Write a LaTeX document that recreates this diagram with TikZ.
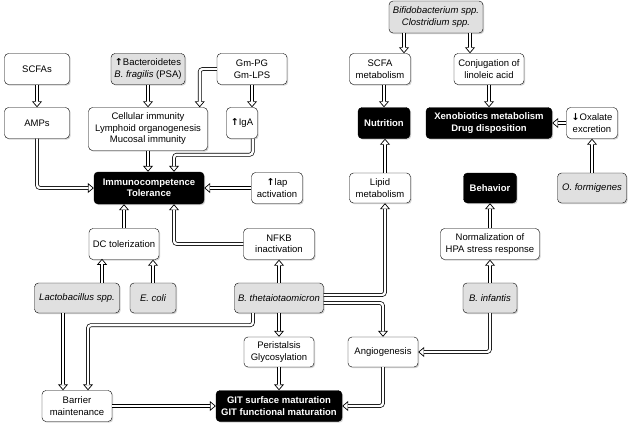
\documentclass[tikz,border=0pt]{standalone}
\usepackage{fontspec}
\setmainfont{Liberation Sans}
\newfontfamily\arrowfont{DejaVu Sans}
\usetikzlibrary{arrows.meta,shadows}
\newcommand{\upar}{{\arrowfont\bfseries ↑}}
\newcommand{\dnar}{{\arrowfont\bfseries ↓}}
\tikzset{
  >= latex,
  bx/.style={rectangle, rounded corners=4pt, draw, thin, fill=white, align=center, inner sep=1pt,
    font=\fontsize{9.5}{11.5}\selectfont,
    drop shadow={shadow xshift=1.2pt, shadow yshift=-1.2pt, fill=black!35}},
  gb/.style={bx, fill=black!12, font=\fontsize{9.5}{11.5}\selectfont\itshape},
  kb/.style={bx, fill=black, text=white, font=\fontsize{9.5}{11.5}\selectfont\bfseries},
  ha/.style={line width=3.8pt, rounded corners=3pt,
    -{Triangle[fill=white, length=6pt, width=10pt, line width=0.7pt]},
    postaction={draw=white, line width=2.4pt, -, shorten >=5.5pt}}
}
\begin{document}
\begin{tikzpicture}[x=1pt, y=-1pt]
  \useasboundingbox (0,0) rectangle (628,425);
  \node[bx, minimum width=65pt, minimum height=31pt] (scfa) at (37,69) {SCFAs};
  \node[bx, minimum width=65pt, minimum height=31pt] (amp) at (37,123) {AMPs};
  \node[bx, fill=black!12, minimum width=74pt, minimum height=31pt] (bac) at (148,69)
    {\upar Bacteroidetes\\ \textit{B. fragilis} (PSA)};
  \node[bx, minimum width=70pt, minimum height=31pt] (gm) at (252,69) {Gm-PG\\ Gm-LPS};
  \node[bx, minimum width=119pt, minimum height=43pt] (cel) at (148,129)
    {Cellular immunity\\ Lymphoid organogenesis\\ Mucosal immunity};
  \node[bx, minimum width=31pt, minimum height=31pt] (iga) at (242,123) {\upar IgA};
  \node[kb, minimum width=110pt, minimum height=32pt] (imm) at (149,188)
    {Immunocompetence\\ Tolerance};
  \node[bx, minimum width=51pt, minimum height=31pt] (lap) at (277,188) {\upar lap\\ activation};
  \node[bx, minimum width=70pt, minimum height=31pt] (dc) at (124,244) {DC tolerization};
  \node[bx, minimum width=71pt, minimum height=31pt] (nfkb) at (279,244) {NFKB\\ inactivation};
  \node[gb, minimum width=85pt, minimum height=30pt] (lac) at (77,298) {Lactobacillus spp.};
  \node[gb, minimum width=46pt, minimum height=30pt] (eco) at (153,298) {E. coli};
  \node[gb, minimum width=89pt, minimum height=30pt] (bth) at (279,298) {B. thetaiotaomicron};
  \node[bx, minimum width=70pt, minimum height=30pt] (per) at (279,352) {Peristalsis\\ Glycosylation};
  \node[bx, minimum width=70pt, minimum height=31pt] (bar) at (77,406) {Barrier\\ maintenance};
  \node[kb, minimum width=126pt, minimum height=31pt] (git) at (279,406)
    {GIT surface maturation\\ GIT functional maturation};
  \node[bx, minimum width=70pt, minimum height=30pt] (ang) at (383,352) {Angiogenesis};
  \node[bx, minimum width=99pt, minimum height=31pt] (norm) at (490,244)
    {Normalization of\\ HPA stress response};
  \node[gb, minimum width=54pt, minimum height=30pt] (binf) at (490,298) {B. infantis};
  \node[bx, minimum width=61pt, minimum height=30pt] (lip) at (380,188) {Lipid\\ metabolism};
  \node[gb, minimum width=94pt, minimum height=32pt] (bif) at (436,17)
    {Bifidobacterium spp.\\ Clostridium spp.};
  \node[bx, minimum width=61pt, minimum height=31pt] (smet) at (380,69) {SCFA\\ metabolism};
  \node[bx, minimum width=70pt, minimum height=31pt] (conj) at (489,69) {Conjugation of\\ linoleic acid};
  \node[kb, minimum width=52pt, minimum height=31pt] (nut) at (384,123) {Nutrition};
  \node[kb, minimum width=126pt, minimum height=31pt] (xen) at (489,123)
    {Xenobiotics metabolism\\ Drug disposition};
  \node[bx, minimum width=51pt, minimum height=31pt] (oxa) at (592,123) {\dnar Oxalate\\ excretion};
  \node[kb, minimum width=53pt, minimum height=30pt] (beh) at (490,188) {Behavior};
  \node[gb, minimum width=69pt, minimum height=30pt] (ofo) at (592,188) {O. formigenes};

  \draw[ha] (scfa) -- (amp);
  \draw[ha] (amp.south) |- (imm.west);
  \draw[ha] (bac) -- (cel);
  \draw[ha] (gm.west) -| ([xshift=-8pt]cel.north east);
  \draw[ha] (gm.south) -- (gm.south |- iga.north);
  \draw[ha] (cel.south) -- (cel.south |- imm.north);
  \draw[ha] ([xshift=-5pt]iga.south east) -- ++(0,16) -| ([xshift=25pt]imm.north);
  \draw[ha] (lap) -- (imm);
  \draw[ha] (dc.north) -- (dc.north |- imm.south);
  \draw[ha] (nfkb.west) -| ([xshift=25pt]imm.south);
  \draw[ha] ([xshift=25pt]lac.north) -- ++(0,-24);
  \draw[ha] (eco.north) -- (eco.north |- dc.south);
  \draw[ha] (bth) -- (nfkb);
  \draw[ha] (bth) -- (per);
  \draw[ha] ([xshift=-14pt]lac.south) -- ([xshift=-14pt]bar.north);
  \draw[ha] ([xshift=-26pt]bth.south) -- ++(0,12) -| ([xshift=11pt]bar.north);
  \draw[ha] (per) -- (git);
  \draw[ha] (bar) -- (git);
  \draw[ha] ([yshift=3pt]bth.east) -| ([xshift=5pt]lip.south);
  \draw[ha] ([yshift=-5pt]bth.east) -| (ang.north);
  \draw[ha] (binf.south) |- (ang.east);
  \draw[ha] (binf) -- (norm);
  \draw[ha] (norm) -- (beh);
  \draw[ha] (ang.south) |- (git.east);
  \draw[ha] ([xshift=5pt]lip.north) -- ([xshift=5pt]lip.north |- nut.south);
  \draw[ha] (smet.south -| nut.south) -- (nut.north);
  \draw[ha] ([xshift=-32pt]bif.south) -- ([xshift=-32pt]bif.south |- smet.north);
  \draw[ha] ([xshift=34pt]bif.south) -- ([xshift=34pt]bif.south |- conj.north);
  \draw[ha] (conj) -- (xen);
  \draw[ha] (oxa) -- (xen);
  \draw[ha] (ofo) -- (oxa);
\end{tikzpicture}
\end{document}
